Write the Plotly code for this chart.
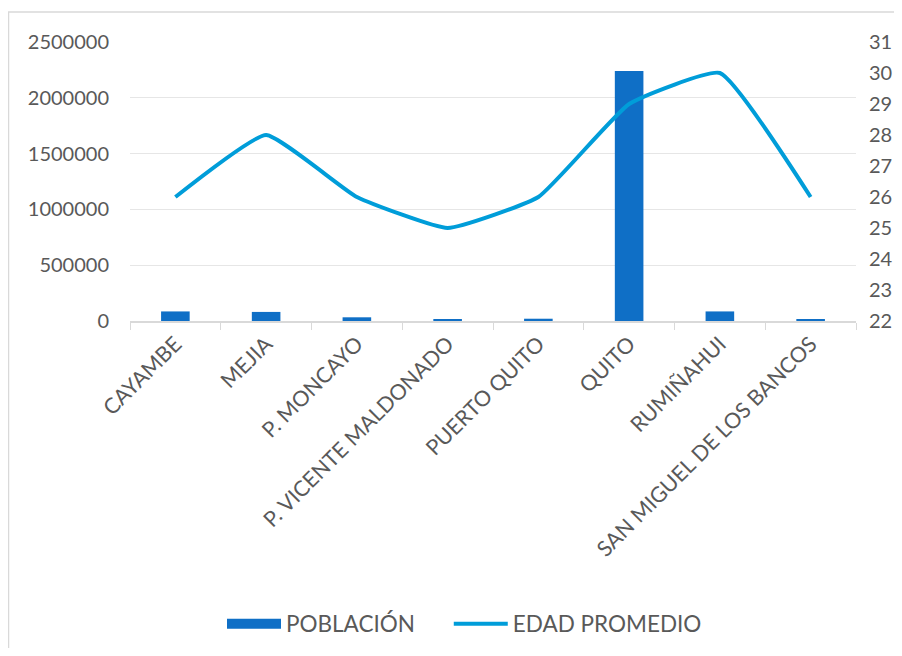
import plotly.graph_objects as go

categorias = ["CAYAMBE", "MEJIA", "P. MONCAYO", "P. VICENTE MALDONADO",
              "PUERTO QUITO", "QUITO", "RUMIÑAHUI", "SAN MIGUEL DE LOS BANCOS"]
poblacion = [85795, 81335, 33172, 12924, 20445, 2239191, 85852, 17573]
edad_promedio = [26, 28, 26, 25, 26, 29, 30, 26]

left_ticks = [0, 500000, 1000000, 1500000, 2000000, 2500000]
right_ticks = list(range(22, 32))

FONT = "Lato"
TXT = "#595959"
BAR_C = "#0F6FC6"
LINE_C = "#009DD9"

W, H = 886, 640
L, R, T, B = 122, 38, 34, 327
PW, PH = W - L - R, H - T - B

fig = go.Figure()
fig.add_trace(go.Bar(
    x=categorias, y=poblacion, name="POBLACIÓN",
    marker=dict(color=BAR_C, line=dict(width=0)),
    yaxis="y", showlegend=False,
))
# legend-only entry to mimic the wide bar swatch
fig.add_trace(go.Scatter(
    x=[None], y=[None], name="POBLACIÓN" + "\u00a0" * 5, mode="lines",
    line=dict(color=BAR_C, width=12), yaxis="y",
))
fig.add_trace(go.Scatter(
    x=categorias, y=edad_promedio, name="EDAD PROMEDIO",
    mode="lines", line=dict(color=LINE_C, width=4, shape="spline", smoothing=0.4),
    yaxis="y2",
))

fig.update_layout(
    width=W, height=H,
    margin=dict(l=L, r=R, t=T, b=B, autoexpand=False),
    paper_bgcolor="white", plot_bgcolor="white",
    font=dict(family=FONT, size=20, color=TXT),
    bargap=0.685,
    showlegend=True,
    legend=dict(orientation="h", xref="container", yref="container",
                x=214 / W, xanchor="left", y=(H - 616) / H, yanchor="middle",
                font=dict(size=22.5, color=TXT), itemwidth=54, traceorder="normal"),
    xaxis=dict(
        type="category", tickangle=-45, tickson="boundaries",
        ticks="outside", ticklen=7, tickcolor="#D9D9D9",
        showline=True, linecolor="#D9D9D9", linewidth=2,
        showgrid=False, tickfont=dict(size=21.5, color=TXT),
    ),
    yaxis=dict(
        range=[0, 2500000], tickvals=left_ticks, ticktext=[str(v) for v in left_ticks],
        showgrid=True, gridcolor="#E6E6E6", gridwidth=1,
        zeroline=False, showline=False, ticks="", ticklabelstandoff=20,
        tickfont=dict(size=20, color=TXT),
    ),
    yaxis2=dict(
        range=[22, 31], tickvals=right_ticks, overlaying="y", side="right",
        showgrid=False, zeroline=False, showline=False, ticks="", ticklabelstandoff=12,
        tickfont=dict(size=20, color=TXT),
    ),
    shapes=[dict(type="rect", xref="paper", yref="paper",
                 x0=(0.5 - L) / PW, x1=1.5, y0=-2.0, y1=(PH + T - 4) / PH,
                 line=dict(color="#D9D9D9", width=1.5), fillcolor="rgba(0,0,0,0)", layer="below")],
)

fig.write_html("out.html")
